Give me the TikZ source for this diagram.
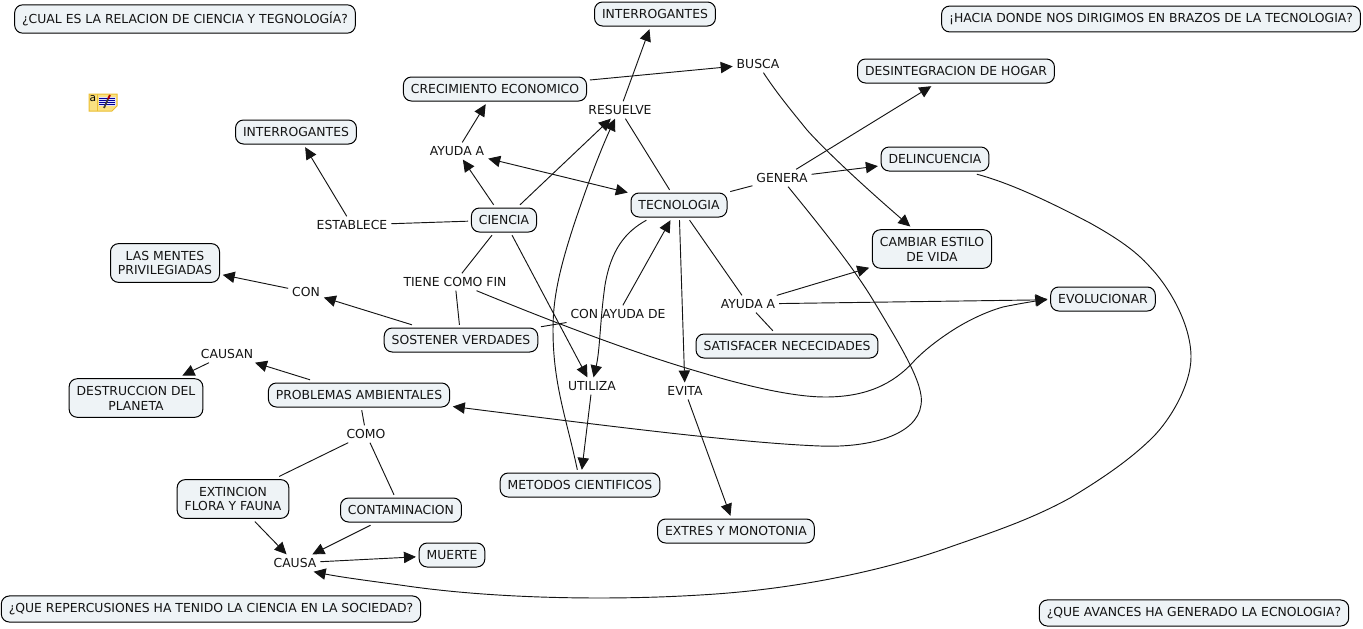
\documentclass[tikz,border=0pt]{standalone}
\usepackage{fontspec}
\setmainfont{DejaVu Sans}
\usepackage{xcolor}
\usetikzlibrary{arrows.meta}
\definecolor{boxfill}{RGB}{238,243,246}
\definecolor{inkline}{RGB}{20,20,20}
\definecolor{notefill}{RGB}{250,225,130}
\definecolor{noteedge}{RGB}{235,190,50}
\tikzset{
    concept/.style={draw=black,fill=boxfill,rounded corners=6,line width=0.75pt,align=center,
        font=\fontsize{9.3}{11.2}\selectfont,text=inkline,inner xsep=5.6pt,inner ysep=5.4pt,minimum height=18pt,outer sep=2.4pt},
    linkword/.style={font=\fontsize{9.3}{11}\selectfont,text=inkline,inner sep=1.5pt,outer sep=1.5pt},
    link/.style={draw=inkline,line width=0.7pt},
    arrowlink/.style={link,-{Triangle[length=9pt,width=8.5pt]}},
    bothlink/.style={link,{Triangle[length=9pt,width=8.5pt]}-{Triangle[length=9pt,width=8.5pt]}}
}
\begin{document}
\begin{tikzpicture}[x=0.75pt,y=-0.75pt]
    \useasboundingbox (0,0) rectangle (1363,628);

    \node[concept] (pregrelacion) at (185,19) {¿CUAL ES LA RELACION DE CIENCIA Y TEGNOLOGÍA?};
    \node[concept] (pregrumbo) at (1151,19) {¡HACIA DONDE NOS DIRIGIMOS EN BRAZOS DE LA TECNOLOGIA?};
    \node[concept] (pregsociedad) at (211,609) {¿QUE REPERCUSIONES HA TENIDO LA CIENCIA EN LA SOCIEDAD?};
    \node[concept] (pregavances) at (1194,613) {¿QUE AVANCES HA GENERADO LA ECNOLOGIA?};

    \node[concept] (interrogb) at (655,14) {INTERROGANTES};
    \node[concept] (interroga) at (296,132) {INTERROGANTES};
    \node[concept] (crecimiento) at (495,89) {CRECIMIENTO ECONOMICO};
    \node[concept] (ciencia) at (504,220) {CIENCIA};
    \node[concept] (tecnologia) at (679,205) {TECNOLOGIA};
    \node[concept] (desintegracion) at (956,71) {DESINTEGRACION DE HOGAR};
    \node[concept] (delincuencia) at (935,159) {DELINCUENCIA};
    \node[concept] (cambiar) at (932,249) {CAMBIAR ESTILO\\DE VIDA};
    \node[concept] (evolucionar) at (1103,299) {EVOLUCIONAR};
    \node[concept] (satisfacer) at (787,346) {SATISFACER NECECIDADES};
    \node[concept] (sostener) at (461,340) {SOSTENER VERDADES};
    \node[concept] (mentes) at (165,263) {LAS MENTES\\PRIVILEGIADAS};
    \node[concept] (problemas) at (359,395) {PROBLEMAS AMBIENTALES};
    \node[concept] (destruccion) at (136,398) {DESTRUCCION DEL\\PLANETA};
    \node[concept] (metodos) at (580,485) {METODOS CIENTIFICOS};
    \node[concept] (extres) at (736,531) {EXTRES Y MONOTONIA};
    \node[concept] (extincion) at (233,499) {EXTINCION\\FLORA Y FAUNA};
    \node[concept] (contaminacion) at (401,510) {CONTAMINACION};
    \node[concept] (muerte) at (452,555) {MUERTE};

    \node[linkword] (busca) at (758,64) {BUSCA};
    \node[linkword] (resuelve) at (620,110) {RESUELVE};
    \node[linkword] (ayudaa) at (457,151) {AYUDA A};
    \node[linkword] (genera) at (782,178) {GENERA};
    \node[linkword] (establece) at (352,225) {ESTABLECE};
    \node[linkword] (tiene) at (455,282) {TIENE COMO FIN};
    \node[linkword] (con) at (306,292) {CON};
    \node[linkword] (conayuda) at (618,314) {CON AYUDA DE};
    \node[linkword] (ayudab) at (748,304) {AYUDA A};
    \node[linkword] (utiliza) at (592,386) {UTILIZA};
    \node[linkword] (evita) at (685,391) {EVITA};
    \node[linkword] (causan) at (227,354) {CAUSAN};
    \node[linkword] (como) at (366,434) {COMO};
    \node[linkword] (causa) at (295,563) {CAUSA};

    \draw[arrowlink] (ciencia)--(ayudaa);
    \draw[arrowlink] (ayudaa)--(crecimiento);
    \draw[bothlink] (ayudaa)--(tecnologia);
    \draw[arrowlink] (ciencia)--(resuelve);
    \draw[link] (tecnologia)--(resuelve);
    \draw[arrowlink] (resuelve)--(interrogb);
    \draw[arrowlink] (crecimiento)--(busca);
    \draw[link] (ciencia)--(establece);
    \draw[arrowlink] (establece)--(interroga);
    \draw[link] (ciencia)--(tiene);
    \draw[link] (tiene)--(sostener);
    \draw[arrowlink] (sostener)--(con);
    \draw[arrowlink] (con)--(mentes);
    \draw[link] (sostener)--(conayuda);
    \draw[arrowlink] (conayuda)--(tecnologia);
    \draw[arrowlink] (ciencia)--(utiliza);
    \draw[arrowlink] (utiliza)--(metodos);
    \draw[arrowlink] (tecnologia)--(evita);
    \draw[arrowlink] (evita)--(extres);
    \draw[link] (tecnologia)--(ayudab);
    \draw[link] (ayudab)--(satisfacer);
    \draw[arrowlink] (ayudab)--(cambiar);
    \draw[arrowlink] (ayudab)--(evolucionar);
    \draw[link] (tecnologia)--(genera);
    \draw[arrowlink] (genera)--(desintegracion);
    \draw[arrowlink] (genera)--(delincuencia);
    \draw[arrowlink] (problemas)--(causan);
    \draw[arrowlink] (causan)--(destruccion);
    \draw[link] (problemas)--(como);
    \draw[link] (como)--(extincion);
    \draw[link] (como)--(contaminacion);
    \draw[arrowlink] (extincion)--(causa);
    \draw[arrowlink] (contaminacion)--(causa);
    \draw[arrowlink] (causa)--(muerte);

    \draw[arrowlink] (busca.-58) .. controls (778,95) and (795,115) .. (807,130)
        .. controls (825,150) and (860,183) .. (cambiar.134);
    \draw[arrowlink] (tecnologia.205) .. controls (625,232) and (611,250) .. (605,285)
        .. controls (600,320) and (600,350) .. (utiliza.80);
    \draw[arrowlink] (metodos.100) .. controls (567,420) and (553,385) .. (553,330)
        .. controls (553,300) and (558,270) .. (580,207)
        .. controls (592,172) and (603,145) .. (resuelve.-120);
    \draw[arrowlink] (tiene.-22) .. controls (560,325) and (640,355) .. (703,373)
        .. controls (760,390) and (800,397) .. (825,397)
        .. controls (865,397) and (893,385) .. (915,360)
        .. controls (925,350) and (935,342) .. (950,332)
        .. controls (965,322) and (985,312) .. (1003,307)
        .. controls (1017,304) and (1030,302) .. (evolucionar.west);
    \draw[arrowlink] (genera.-55) .. controls (825,232) and (855,270) .. (873,300)
        .. controls (900,345) and (925,385) .. (921,405)
        .. controls (917,435) and (870,448) .. (820,446)
        .. controls (740,443) and (600,425) .. (problemas.-7);
    \draw[arrowlink] (delincuencia.-20) .. controls (1010,183) and (1050,202) .. (1090,223)
        .. controls (1115,237) and (1135,250) .. (1150,267)
        .. controls (1170,288) and (1191,325) .. (1191,357)
        .. controls (1191,385) and (1170,420) .. (1153,437)
        .. controls (1130,460) and (1100,480) .. (1070,498)
        .. controls (1030,520) and (990,533) .. (950,547)
        .. controls (880,572) and (790,590) .. (700,595)
        .. controls (620,600) and (500,600) .. (400,585)
        .. controls (370,581) and (340,577) .. (causa.-25);

    \filldraw[fill=notefill,draw=noteedge,line width=0.75pt] (89,94)--(117,94)--(117,106)--(112,111)--(89,111)--cycle;
    \draw[noteedge,line width=0.5pt] (97,94)--(97,111);
    \fill[white!70!blue!40] (99,97) rectangle (116,106);
    \foreach \ypos in {98,100,102,104}
        \draw[blue!60!black,line width=0.4pt] (99,\ypos)--(115,\ypos);
    \draw[black!85!yellow,line width=1.3pt] (104,108)--(108,99);
    \draw[red!70!black,line width=1.4pt] (108,99)--(110,95);
    \node[font=\fontsize{8}{8}\selectfont,inner sep=0pt] (notea) at (93,99) {a};
\end{tikzpicture}
\end{document}
